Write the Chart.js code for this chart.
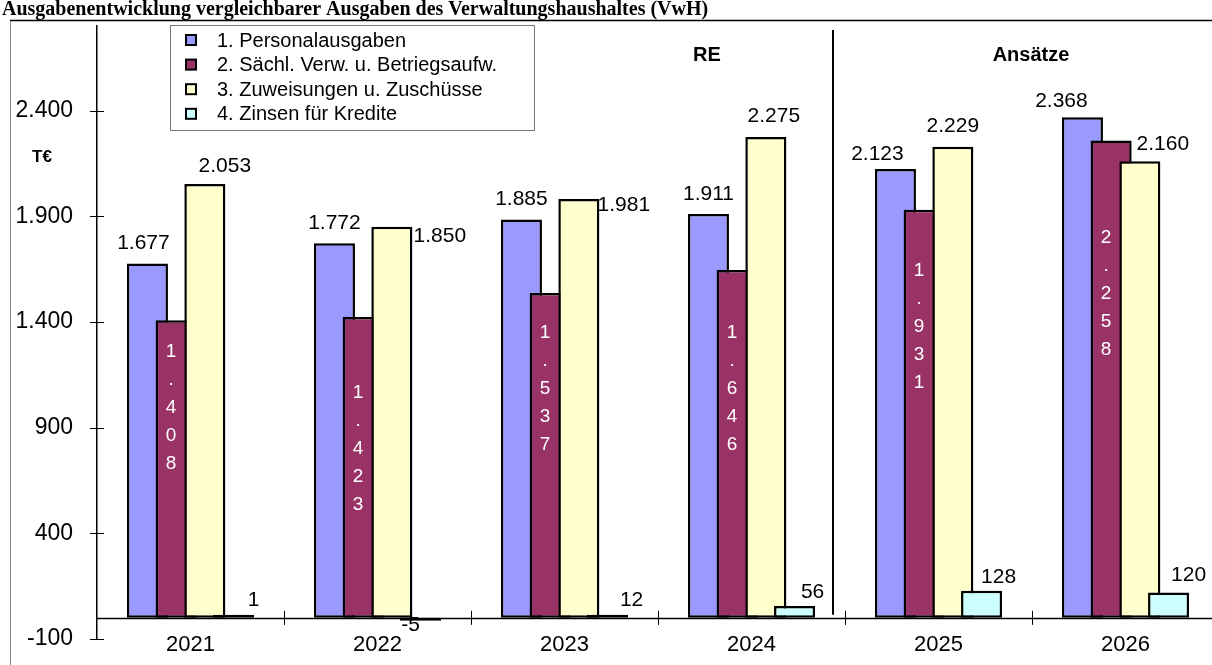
<!DOCTYPE html>
<html>
<head>
<meta charset="utf-8">
<script src="https://cdn.jsdelivr.net/npm/chart.js@4.4.1/dist/chart.umd.min.js"></script>
<style>
  html, body { margin: 0; padding: 0; background: #fff; overflow: hidden; }
  canvas { display: block; }
</style>
</head>
<body>
<canvas id="myChart" width="1219" height="665"></canvas>
<script>
var years = ["2021", "2022", "2023", "2024", "2025", "2026"];
var personal = [1677, 1772, 1885, 1911, 2123, 2368];
var sachaufwand = [1408, 1423, 1537, 1646, 1931, 2258];
var zuweisungen = [2053, 1850, 1981, 2275, 2229, 2160];
var zinsen = [1, -5, 12, 56, 128, 120];
var yTicks = [-100, 400, 900, 1400, 1900, 2400];
var seriesNames = ["1. Personalausgaben", "2. Sächl. Verw. u. Betriegsaufw.", "3. Zuweisungen u. Zuschüsse", "4. Zinsen für Kredite"];

// label placement relative to the top centre of each bar: [dx, dy]
var labelShift = [
    [[-4, -20], [0, -20], [0, -20], [0, -20], [-18, -15], [-21, -16]],
    [[-5, 32], [-5, 76], [-5, 40], [-5, 63], [-5, 61], [-5, 97]],
    [[20, -18], [48, 9], [45, 6], [8, -21], [0, -20], [23, -17]],
    [[20, -15], [-10, 7], [24, -15], [18, -14], [17, -14], [20, -17]]
];

var FONT = "'Liberation Sans', Arial, sans-serif";

function fmt(v) {
    var s = String(Math.abs(v)).replace(/\B(?=(\d{3})+(?!\d))/g, ".");
    return (v < 0 ? "-" : "") + s;
}

// frame, title, axes, group captions and legend
var decor = {
    id: 'decor',
    beforeDraw: function (chart) {
        var c = chart.ctx;
        c.save();
        c.fillStyle = "#fff";
        c.fillRect(0, 0, chart.width, chart.height);
        c.fillStyle = "#000";
        c.font = "bold 20px 'Liberation Serif', 'Times New Roman', serif";
        c.textBaseline = "alphabetic";
        c.textAlign = "left";
        c.fillText("Ausgabenentwicklung vergleichbarer Ausgaben des Verwaltungshaushaltes (VwH)", 2, 15);
        c.strokeStyle = "#000";
        c.lineWidth = 1.5;
        c.beginPath();
        c.moveTo(10, 20.5);
        c.lineTo(chart.width, 20.5);
        c.stroke();
        c.strokeStyle = "#888";
        c.lineWidth = 1;
        c.beginPath();
        c.moveTo(10.5, 21);
        c.lineTo(10.5, chart.height);
        c.stroke();
        c.restore();
    },
    beforeDatasetsDraw: function (chart) {
        var c = chart.ctx;
        var x = chart.scales.x, y = chart.scales.y;
        var area = chart.chartArea;
        var y0 = Math.round(y.getPixelForValue(0)) + 0.5;
        c.save();
        c.strokeStyle = "#000";
        c.lineWidth = 1.5;
        c.beginPath();
        c.moveTo(area.left, y0);
        c.lineTo(chart.width, y0);
        c.stroke();
        c.fillStyle = "#000";
        c.font = "22px " + FONT;
        c.textAlign = "center";
        c.textBaseline = "middle";
        years.forEach(function (lab, i) {
            c.fillText(lab, x.getPixelForTick(i), 645);
        });
        c.restore();
    },
    afterDraw: function (chart) {
        var c = chart.ctx;
        var x = chart.scales.x, y = chart.scales.y;
        c.save();
        // tick marks crossing the axes
        c.strokeStyle = "#000";
        c.lineWidth = 1;
        yTicks.forEach(function (v) {
            var py = Math.round(y.getPixelForValue(v)) + 0.5;
            c.beginPath();
            c.moveTo(x.left - 7, py);
            c.lineTo(x.left + 7, py);
            c.stroke();
        });
        var y0 = y.getPixelForValue(0);
        for (var i = 1; i < years.length; i++) {
            var px = Math.round((x.getPixelForTick(i - 1) + x.getPixelForTick(i)) / 2) + 0.5;
            c.beginPath();
            c.moveTo(px, y0 - 7);
            c.lineTo(px, y0 + 7);
            c.stroke();
        }
        // separator between results and plan values
        var sep = Math.round((x.getPixelForTick(3) + x.getPixelForTick(4)) / 2) - 12;
        c.lineWidth = 2;
        c.beginPath();
        c.moveTo(sep, 30);
        c.lineTo(sep, y0 - 3);
        c.stroke();

        c.fillStyle = "#000";
        c.font = "bold 20px " + FONT;
        c.textAlign = "center";
        c.textBaseline = "middle";
        c.fillText("RE", 707, 55);
        c.fillText("Ansätze", 1031, 55);
        c.font = "bold 17px " + FONT;
        c.fillText("T€", 42, 157);

        // legend box
        c.strokeStyle = "#777";
        c.lineWidth = 1;
        c.fillStyle = "#fff";
        c.fillRect(170.5, 25.5, 364, 105);
        c.strokeRect(170.5, 25.5, 364, 105);
        c.font = "20px " + FONT;
        c.textAlign = "left";
        chart.data.datasets.forEach(function (ds, k) {
            var ry = 40 + k * 24.6;
            c.fillStyle = ds.backgroundColor;
            c.fillRect(186, ry - 5, 10, 10);
            c.strokeStyle = "#000";
            c.lineWidth = 2;
            c.strokeRect(186, ry - 5, 10, 10);
            c.fillStyle = "#000";
            c.fillText(ds.label, 217, ry + 1);
        });
        c.restore();
    }
};

// bars are drawn in series order so later series overlap earlier ones,
// then the value labels go on top
var drawInOrder = {
    id: 'drawInOrder',
    beforeDatasetsDraw: function (chart) {
        var c = chart.ctx;
        for (var i = 0; i < chart.data.datasets.length; i++) {
            chart.getDatasetMeta(i).controller.draw();
        }
        c.save();
        c.textAlign = "center";
        c.textBaseline = "middle";
        chart.data.datasets.forEach(function (ds, k) {
            var meta = chart.getDatasetMeta(k);
            meta.data.forEach(function (bar, j) {
                var v = ds.data[j];
                var top = Math.min(bar.y, bar.base);
                var s = labelShift[k][j];
                if (k === 1) {
                    // written top-down inside the bar, one character per line
                    c.fillStyle = "#fff";
                    c.font = "19px " + FONT;
                    var txt = fmt(v);
                    for (var n = 0; n < txt.length; n++) {
                        c.fillText(txt[n], bar.x + s[0], top + s[1] + n * 28);
                    }
                } else {
                    c.fillStyle = "#000";
                    c.font = "21px " + FONT;
                    c.fillText(fmt(v), bar.x + s[0], top + s[1]);
                }
            });
        });
        c.restore();
        return false;
    }
};

var colors = ["#9999FF", "#993366", "#FFFFCC", "#CCFFFF"];
var series = [personal, sachaufwand, zuweisungen, zinsen];

var ctx = document.getElementById("myChart");
var myChart = new Chart(ctx, {
    type: 'bar',
    data: {
        labels: years,
        datasets: series.map(function (d, k) {
            return {
                label: seriesNames[k],
                data: d,
                backgroundColor: colors[k],
                borderColor: "#000",
                borderWidth: 2.5,
                borderSkipped: false,
                minBarLength: 3,
                categoryPercentage: 0.614,
                barPercentage: 1.43
            };
        })
    },
    options: {
        responsive: false,
        animation: false,
        layout: { padding: { top: 26, bottom: 26, left: 0, right: 0 } },
        plugins: {
            legend: { display: false },
            title: { display: false },
            tooltip: { enabled: false }
        },
        scales: {
            x: {
                display: false
            },
            y: {
                min: -100,
                max: 2800,
                afterBuildTicks: function (scale) {
                    scale.ticks = yTicks.map(function (v) { return { value: v }; });
                },
                afterFit: function (scale) {
                    scale.width = 97;
                    // the outer padding alone sets the plot height
                    scale.paddingTop = 0;
                    scale.paddingBottom = 0;
                },
                grid: { display: false, drawTicks: false },
                border: { display: true, color: "#000", width: 1.5 },
                ticks: {
                    color: "#000",
                    font: { family: FONT, size: 23 },
                    padding: 24,
                    callback: function (v) { return fmt(v); }
                }
            }
        }
    },
    plugins: [decor, drawInOrder]
});
</script>
</body>
</html>
